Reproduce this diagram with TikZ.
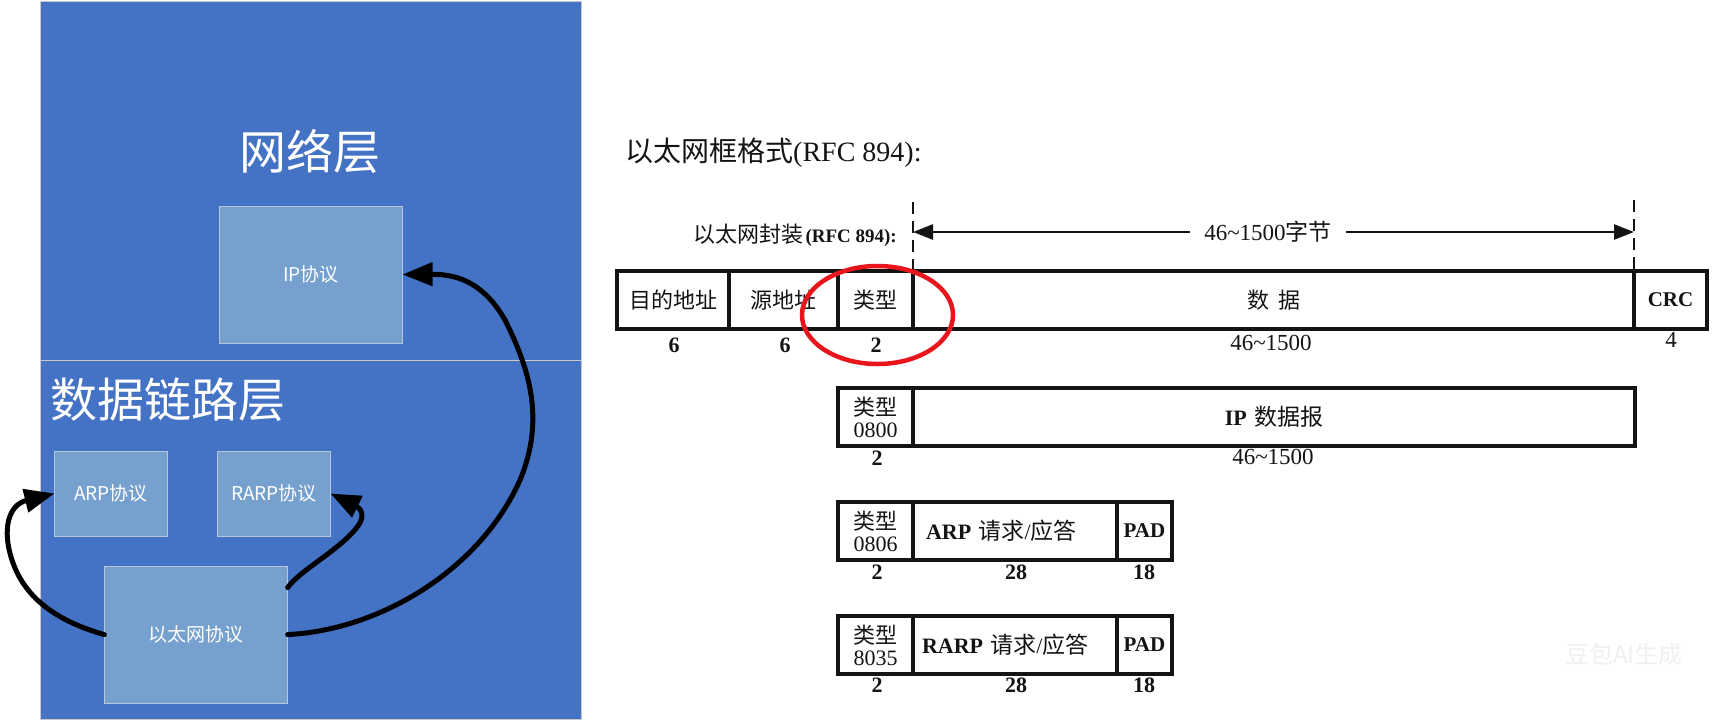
\documentclass[tikz,border=0pt]{standalone}
\usepackage{fontspec}
\setmainfont{Liberation Serif}
\newfontfamily\cjk{Noto Sans CJK SC}
\usetikzlibrary{arrows.meta,shapes.geometric,calc}
\definecolor{panelblue}{RGB}{68,114,196}
\definecolor{boxblue}{RGB}{118,160,206}
\definecolor{boxline}{RGB}{185,198,218}
\definecolor{panelline}{RGB}{200,200,200}
\definecolor{inkred}{RGB}{232,22,28}
\definecolor{ink}{RGB}{20,20,20}
\newcommand{\setfs}[1]{\fontsize{#1}{#1}\selectfont}
\begin{document}
\begin{tikzpicture}[x=1pt,y=-1pt,
  pbox/.style={draw=boxline, fill=boxblue, line width=1pt, inner sep=0pt, outer sep=0pt, text=white, font=\cjk\setfs{19}},
  layertitle/.style={text=white, font=\cjk\setfs{47}, inner sep=0pt},
  bigarrow/.style={draw=black, line width=5pt, line cap=round, -{Triangle[length=30pt,width=23pt]}},
  field/.style={draw=ink, line width=3.5pt, inner sep=0pt, outer sep=0pt, minimum height=58pt, anchor=north west, text=ink, font=\setfs{22}},
  fieldlbl/.style={text=ink, font=\bfseries\setfs{22}, inner sep=0pt},
  numlbl/.style={text=ink, font=\setfs{23}, inner sep=0pt},
  dimarrow/.style={draw=ink, line width=2.5pt, -{Triangle[length=20pt,width=15pt]}},
  dashline/.style={draw=ink, line width=2.5pt, dash pattern=on 12pt off 7pt},
]
\useasboundingbox (0,0) rectangle (1717,721);
\fill[white] (0,0) rectangle (1717,721);

% ---------- left panel ----------
\draw[fill=panelblue, draw=panelline, line width=1pt] (40,1) rectangle (581,719);
\draw[panelline, line width=1pt] (40,360) -- (581,360);

\node[layertitle] (netl) at (310,152) {网络层};
\node[layertitle, anchor=west] (dll) at (50,400) {数据链路层};

\node[pbox, minimum width=183.6pt, minimum height=137pt] (ip) at (310.8,274.5) {IP协议};
\node[pbox, minimum width=113pt, minimum height=85pt] (arp) at (111,493.5) {ARP协议};
\node[pbox, minimum width=113pt, minimum height=85pt] (rarp) at (274,493.5) {RARP协议};
\node[pbox, minimum width=183.3pt, minimum height=137pt] (eth) at (196,634.6) {以太网协议};

\draw[bigarrow] (eth.west) .. controls (60,622) and (25,600) .. (12,560)
   .. controls (2,530) and (8,505) .. (arp.west);
\draw[bigarrow] ([yshift=47pt]eth.east) .. controls (300,570) and (340,550) .. (358,526)
   .. controls (366,515) and (360,508) .. (rarp.east);
\draw[bigarrow] (eth.east) .. controls (380,630) and (480,570) .. (520,480)
   .. controls (545,420) and (530,370) .. (505,320)
   .. controls (485,285) and (460,274) .. (ip.east);

% ---------- right side ----------
\node[anchor=west, text=ink, inner sep=0pt, font=\setfs{28}] (title) at (625,153) {{\cjk 以太网框格式}(RFC 894):};
\node[anchor=east, text=ink, inner sep=0pt] (enc) at (897,235) {{\cjk\setfs{22}以太网封装} {\bfseries\setfs{19}(RFC 894):}};

% row 1
\node[field, minimum width=112pt] (dst) at (617,271) {\cjk 目的地址};
\node[field, minimum width=109pt] (src) at (dst.north east) {\cjk 源地址};
\node[field, minimum width=75pt] (typ) at (src.north east) {\cjk 类型};
\node[field, minimum width=721pt, text width=696pt, align=center] (data) at (typ.north east) {\cjk 数\hspace{9pt}据};
\node[field, minimum width=73pt] (crc) at (data.north east) {\bfseries\setfs{21}CRC};

\node[fieldlbl] (l1a) at (674,345) {6};
\node[fieldlbl] (l1b) at (785,345) {6};
\node[fieldlbl] (l1c) at (876,345) {2};
\node[numlbl] (l1d) at (1271,343) {46\textasciitilde1500};
\node[numlbl] (l1e) at (1671,340) {4};

% span arrow
\coordinate (dtl) at (913,202);
\coordinate (dtr) at (1634,200);
\draw[dashline] (dtl) -- (data.north west);
\draw[dashline] (dtr) -- (crc.north west);
\node[numlbl, inner xsep=14pt] (span) at (1268,232) {46\textasciitilde1500{\cjk 字节}};
\coordinate (al) at (913,232);
\coordinate (ar) at (1634,232);
\draw[dimarrow] (span.west) -- (al);
\draw[dimarrow] (span.east) -- (ar);

% highlight
\node[draw=inkred, line width=4.5pt, ellipse, minimum width=151pt, minimum height=98pt, inner sep=0pt] (hl) at (877.5,315) {};

% row 2
\node[field, minimum width=75pt, align=center] (t2) at (838,388) {{\cjk 类型}\\0800};
\node[field, minimum width=722pt, text width=700pt, align=center] (ipd) at (t2.north east) {{\bfseries\setfs{22}IP} {\cjk\setfs{23}数据报}};
\node[fieldlbl] (l2a) at (877,458) {2};
\node[numlbl] (l2b) at (1273,457) {46\textasciitilde1500};

% row 3
\node[field, minimum width=75pt, align=center] (t3) at (838,502) {{\cjk 类型}\\0806};
\node[field, minimum width=204pt, text width=182pt, align=left] (arpd) at (t3.north east) {\hspace*{2pt}{\bfseries\setfs{22}ARP} {\cjk\setfs{23}请求}/{\cjk\setfs{23}应答}};
\node[field, minimum width=55pt] (pad3) at (arpd.north east) {\bfseries\setfs{21}PAD};
\node[fieldlbl] (l3a) at (877,572) {2};
\node[fieldlbl] (l3b) at (1016,572) {28};
\node[fieldlbl] (l3c) at (1144,572) {18};

% row 4
\node[field, minimum width=75pt, align=center] (t4) at (838,616) {{\cjk 类型}\\8035};
\node[field, minimum width=204pt, text width=186pt, align=left] (rarpd) at (t4.north east) {{\bfseries\setfs{22}RARP} {\cjk\setfs{23}请求}/{\cjk\setfs{23}应答}};
\node[field, minimum width=55pt] (pad4) at (rarpd.north east) {\bfseries\setfs{21}PAD};
\node[fieldlbl] (l4a) at (877,685) {2};
\node[fieldlbl] (l4b) at (1016,685) {28};
\node[fieldlbl] (l4c) at (1144,685) {18};

% watermark
\node[text=gray!12, font=\cjk\setfs{24}, inner sep=0pt] (wm) at (1624,654) {豆包AI生成};
\end{tikzpicture}
\end{document}
